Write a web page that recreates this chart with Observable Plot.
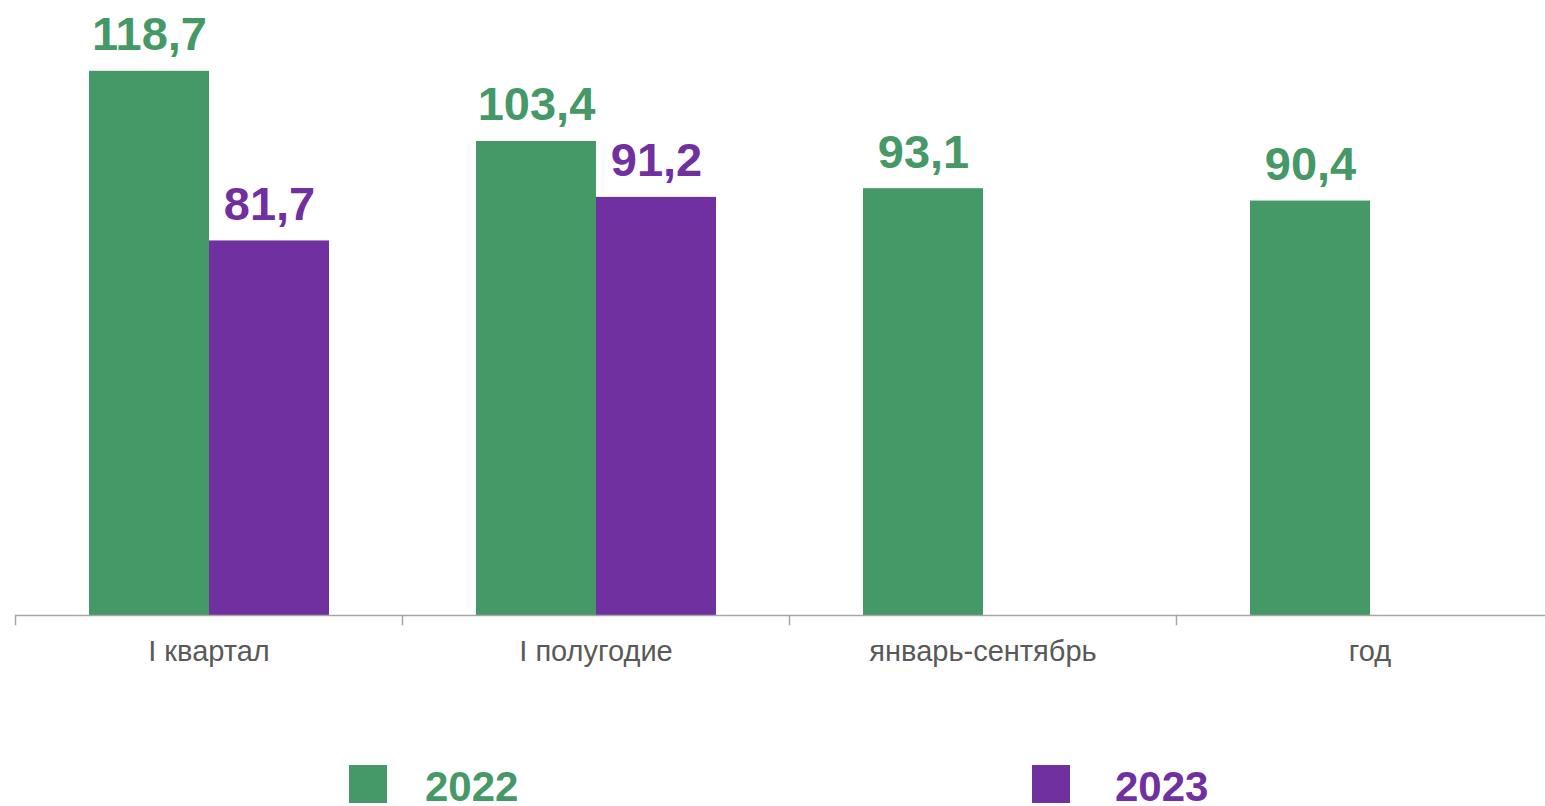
<!DOCTYPE html>
<html>
<head>
<meta charset="utf-8">
<script src="https://cdn.jsdelivr.net/npm/d3@7"></script>
<script src="https://cdn.jsdelivr.net/npm/@observablehq/plot@0.6"></script>
<style>
  html, body { margin: 0; padding: 0; background: #fff; overflow: hidden; }
  #wrap { position: relative; width: 1545px; height: 806px; overflow: hidden; font-family: "Liberation Sans", Arial, sans-serif; }
  #chart { position: absolute; left: 0; top: 0; width: 1564px; height: 700px; }
  #chart svg { max-width: none !important; width: 1564px !important; height: 700px !important; }
  .sw { position: absolute; width: 38px; height: 38px; top: 765px; }
  .lt { position: absolute; font-size: 42px; font-weight: bold; line-height: 24px; top: 775px; }
</style>
</head>
<body>
<div id="wrap">
  <div id="chart"></div>
  <div class="sw" style="left:349px;background:#449966"></div>
  <div class="lt" style="left:425px;color:#449966">2022</div>
  <div class="sw" style="left:1032px;background:#7030A0"></div>
  <div class="lt" style="left:1115px;color:#7030A0">2023</div>
</div>
<script>
const categories = ["I квартал", "I полугодие", "январь-сентябрь", "год"];
const years = ["2022", "2023"];
const values2022 = [118.7, 103.4, 93.1, 90.4];
const values2023 = [81.7, 91.2, null, null];
const colors = ["#449966", "#7030A0"];

const data = [];
categories.forEach((c, i) => {
  [values2022, values2023].forEach((vals, j) => {
    if (vals[i] != null) data.push({cat: c, year: years[j], value: vals[i]});
  });
});

const chart = Plot.plot({
  width: 1564,
  height: 700,
  marginLeft: 14,
  marginRight: 0,
  marginTop: 19,
  marginBottom: 85,
  fx: {domain: categories, padding: 0, label: null},
  x: {domain: years, paddingInner: 0, paddingOuter: 0.607, axis: null},
  y: {domain: [0, 130], axis: null},
  color: {domain: years, range: colors},
  style: {fontFamily: "'Liberation Sans', Arial, sans-serif", background: "transparent", overflow: "visible", maxWidth: "none"},
  marks: [
    Plot.barY(data, {fx: "cat", x: "year", y: "value", fill: "year"}),
    Plot.ruleY([0], {stroke: "#a6a6a6", strokeWidth: 1.5}),
    Plot.frame({anchor: "left", stroke: "#a6a6a6", strokeWidth: 1.5, insetTop: 596, insetBottom: -9}),
    Plot.text(data, {
      fx: "cat", x: "year", y: "value",
      text: d => d.value.toFixed(1).replace(".", ","),
      fill: "year", fontSize: 47, fontWeight: "bold",
      lineAnchor: "bottom", dy: -21
    }),
    Plot.axisFx({anchor: "bottom", tickSize: 0, tickPadding: 25, fontSize: 29, color: "#595959", label: null})
  ]
});
document.getElementById("chart").appendChild(chart);
</script>
</body>
</html>
